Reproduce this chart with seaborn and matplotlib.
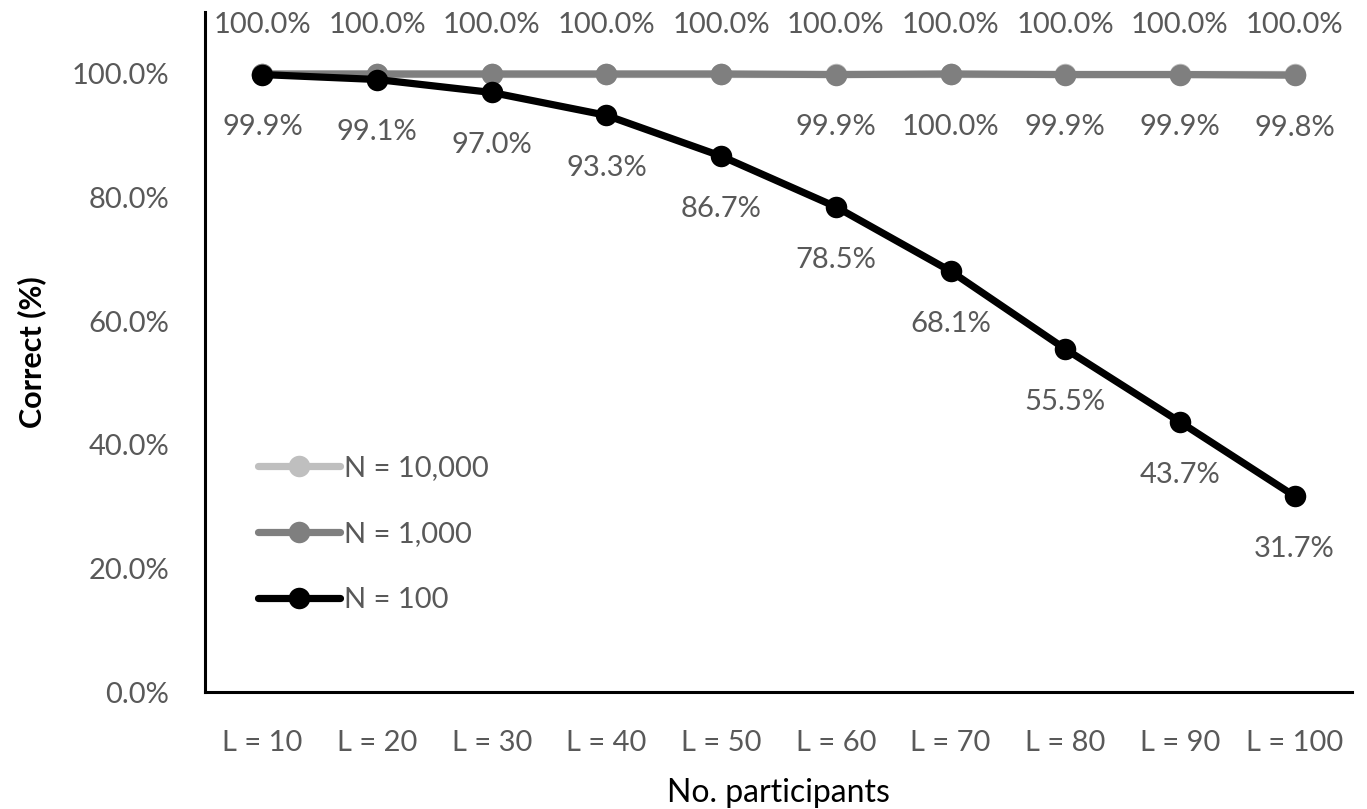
import matplotlib
matplotlib.use("Agg")
import matplotlib.pyplot as plt
import seaborn as sns
import pandas as pd
from matplotlib.ticker import FuncFormatter

# Category labels along the x axis
lengths = ["L = 10", "L = 20", "L = 30", "L = 40", "L = 50",
           "L = 60", "L = 70", "L = 80", "L = 90", "L = 100"]

# Percent correct for each sample size
n10000 = [100.0, 100.0, 100.0, 100.0, 100.0, 100.0, 100.0, 100.0, 100.0, 100.0]
n1000 = [100.0, 100.0, 100.0, 100.0, 100.0, 99.9, 100.0, 99.9, 99.9, 99.8]
n100 = [99.9, 99.1, 97.0, 93.3, 86.7, 78.5, 68.1, 55.5, 43.7, 31.7]

# Points whose values are printed for the N = 1,000 series
n1000_labelled = [5, 6, 7, 8, 9]

sns.set_theme(style="white")
plt.rcParams["font.family"] = ["Lato", "DejaVu Sans"]

text_grey = "#595959"
fs = 21
series = [
    ("N = 10,000", n10000, "#bfbfbf", 1),
    ("N = 1,000", n1000, "#7f7f7f", 2),
    ("N = 100", n100, "#000000", 3),
]

fig = plt.figure(figsize=(13.67, 8.09), dpi=100)
ax = fig.add_axes([0.15, 0.1446, 0.839, 0.8404])

pos = list(range(len(lengths)))
for name, vals, col, z in series:
    df = pd.DataFrame({"pos": pos, "value": vals})
    sns.lineplot(data=df, x="pos", y="value", ax=ax, color=col, linewidth=5.2,
                 marker="o", markersize=15.5, markeredgewidth=0, label=name,
                 zorder=z)

# Value labels
for i, v in enumerate(n10000):
    ax.annotate(f"{v:.1f}%", (i, v), xytext=(0, 35), textcoords="offset points",
                ha="center", va="center", fontsize=fs, color=text_grey)
for i in n1000_labelled:
    v = n1000[i]
    ax.annotate(f"{v:.1f}%", (i, v), xytext=(0, -38), textcoords="offset points",
                ha="center", va="center", fontsize=fs, color=text_grey)
for i, v in enumerate(n100):
    ax.annotate(f"{v:.1f}%", (i, v), xytext=(0, -38), textcoords="offset points",
                ha="center", va="center", fontsize=fs, color=text_grey)

ax.set_xlim(-0.5, len(lengths) - 0.5)
ax.set_ylim(0, 110)
ax.set_xticks(pos)
ax.set_xticklabels(lengths)
ax.set_yticks([0, 20, 40, 60, 80, 100])
ax.yaxis.set_major_formatter(FuncFormatter(lambda y, _: f"{y:.1f}%"))
ax.tick_params(axis="both", length=0, labelsize=fs, labelcolor=text_grey)
ax.tick_params(axis="x", pad=27)
ax.tick_params(axis="y", pad=26)

for side in ["top", "right"]:
    ax.spines[side].set_visible(False)
for side in ["left", "bottom"]:
    ax.spines[side].set_color("black")
    ax.spines[side].set_linewidth(2.2)

ax.set_ylabel("Correct (%)", fontsize=22, fontweight="bold", color="black",
              labelpad=18)
ax.set_xlabel("No. participants", fontsize=23, color="black", labelpad=16)

leg = ax.legend(loc="upper left", bbox_to_anchor=(0.036, 0.365), frameon=False,
                fontsize=fs, handlelength=2.8, handletextpad=0.15,
                labelspacing=1.37, borderaxespad=0)
for t in leg.get_texts():
    t.set_color(text_grey)

fig.savefig("out.png", dpi=100)
